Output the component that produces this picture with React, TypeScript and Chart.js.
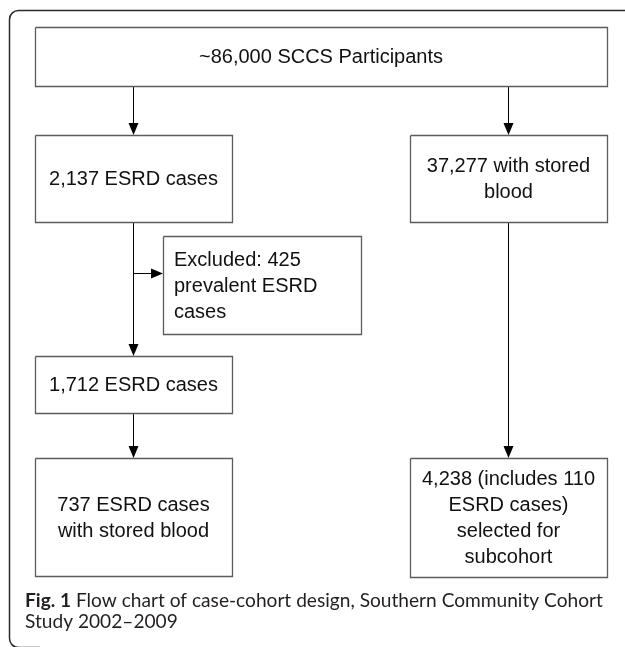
import React, { useEffect, useRef } from "react";
import { Chart, registerables } from "chart.js";

Chart.register(...registerables);

// ---- content (node texts) ----
const nodeTexts: string[][] = [
  ["~86,000 SCCS Participants"],
  ["2,137 ESRD cases"],
  ["37,277 with stored", "blood"],
  ["Excluded: 425", "prevalent ESRD", "cases"],
  ["1,712 ESRD cases"],
  ["737 ESRD cases", "with stored blood"],
  ["4,238 (includes 110", "ESRD cases)", "selected for", "subcohort"],
];
const nodeAlign: ("center" | "left")[] = ["center", "center", "center", "left", "center", "center", "center"];

const captionBold = "Fig. 1";
const captionLine1 = " Flow chart of case-cohort design, Southern Community Cohort";
const captionLine2 = "Study 2002\u20132009";

// ---- layout (in scale units = px of the 625x647 canvas) ----
const boxLeft = [35, 35, 410, 163, 35, 35, 410];
const boxTop = [27, 135, 135, 236, 356, 458, 458];
const boxRight = [607, 232, 607, 361, 232, 232, 607];
const boxBottom = [86, 222, 222, 334, 413, 576, 577];
const textLineStep = 26;
const excludedTextX = 174;

// connectors: [x1, y1, x2, y2]
const connX1 = [133.5, 508.5, 133.5, 133.5, 133.5, 508.5];
const connY1 = [86, 86, 222, 273.5, 413, 222];
const connX2 = [133.5, 508.5, 133.5, 163, 133.5, 508.5];
const connY2 = [135, 135, 356, 273.5, 458, 458];

const W = 625;
const H = 647;

const flowPlugin = {
  id: "flowPlugin",
  beforeDatasetsDraw(chart: any) {
    const ctx = chart.ctx;
    const xs = chart.scales.x;
    const ys = chart.scales.y;
    // outer frame
    const l = xs.getPixelForValue(9.5);
    const t = ys.getPixelForValue(10.5);
    const b = ys.getPixelForValue(647.5);
    const r = 9;
    ctx.save();
    ctx.strokeStyle = "#2b2b2b";
    ctx.lineWidth = 1.5;
    ctx.beginPath();
    ctx.moveTo(xs.getPixelForValue(632), t);
    ctx.lineTo(l + r, t);
    ctx.arcTo(l, t, l, t + r, r);
    ctx.lineTo(l, b - r);
    ctx.arcTo(l, b, l + r, b, r);
    ctx.lineTo(xs.getPixelForValue(40), b);
    ctx.stroke();
    ctx.restore();
  },
  afterDatasetsDraw(chart: any) {
    const ctx = chart.ctx;
    const xs = chart.scales.x;
    const ys = chart.scales.y;
    ctx.save();
    // arrowheads
    ctx.fillStyle = "#000";
    for (let i = 0; i < connX1.length; i++) {
      const x1 = xs.getPixelForValue(connX1[i]);
      const y1 = ys.getPixelForValue(connY1[i]);
      const x2 = xs.getPixelForValue(connX2[i]);
      const y2 = ys.getPixelForValue(connY2[i]);
      const ang = Math.atan2(y2 - y1, x2 - x1);
      const len = 12;
      const half = 5;
      ctx.save();
      ctx.translate(x2, y2);
      ctx.rotate(ang);
      ctx.beginPath();
      ctx.moveTo(0, 0);
      ctx.lineTo(-len, -half);
      ctx.lineTo(-len, half);
      ctx.closePath();
      ctx.fill();
      ctx.restore();
    }
    // node texts
    ctx.fillStyle = "#111";
    ctx.font = '20px "Liberation Sans", Arial, sans-serif';
    ctx.textBaseline = "middle";
    for (let i = 0; i < nodeTexts.length; i++) {
      const lines = nodeTexts[i];
      const cx = xs.getPixelForValue((boxLeft[i] + boxRight[i]) / 2);
      const cy = ys.getPixelForValue((boxTop[i] + boxBottom[i]) / 2);
      const n = lines.length;
      for (let j = 0; j < n; j++) {
        const y = cy + (j - (n - 1) / 2) * textLineStep + 1;
        if (nodeAlign[i] === "left") {
          ctx.textAlign = "left";
          ctx.fillText(lines[j], xs.getPixelForValue(excludedTextX), y);
        } else {
          ctx.textAlign = "center";
          ctx.fillText(lines[j], cx, y);
        }
      }
    }
    // caption
    const capFont = '"Lato", "Open Sans", sans-serif';
    const capX = xs.getPixelForValue(25);
    const capTarget = 578;
    let size = 16;
    ctx.font = `bold ${size}px ${capFont}`;
    const wb = ctx.measureText(captionBold).width;
    ctx.font = `${size}px ${capFont}`;
    const wr = ctx.measureText(captionLine1).width;
    size = (size * capTarget) / (wb + wr);
    ctx.textAlign = "left";
    ctx.textBaseline = "alphabetic";
    ctx.fillStyle = "#231f20";
    ctx.font = `bold ${size}px ${capFont}`;
    const wb2 = ctx.measureText(captionBold).width;
    const by1 = ys.getPixelForValue(607);
    const by2 = ys.getPixelForValue(628);
    ctx.fillText(captionBold, capX, by1);
    ctx.font = `${size}px ${capFont}`;
    ctx.fillText(captionLine1, capX + wb2, by1);
    ctx.fillText(captionLine2, capX, by2);
    ctx.restore();
  },
};

export default function App() {
  const ref = useRef<HTMLCanvasElement | null>(null);
  useEffect(() => {
    if (!ref.current) return;
    const datasets: any[] = [];
    for (let i = 0; i < boxLeft.length; i++) {
      const l = boxLeft[i] + 0.5, r = boxRight[i] + 0.5, t = boxTop[i] + 0.5, b = boxBottom[i] + 0.5;
      datasets.push({
        data: [
          { x: l, y: t },
          { x: r, y: t },
          { x: r, y: b },
          { x: l, y: b },
          { x: l, y: t },
        ],
        showLine: true,
        borderColor: "#5c5c5c",
        borderWidth: 1.3,
        pointRadius: 0,
        fill: false,
        tension: 0,
        borderJoinStyle: "miter",
        backgroundColor: "transparent",
      });
    }
    for (let i = 0; i < connX1.length; i++) {
      const horiz = connY1[i] === connY2[i];
      datasets.push({
        data: [
          { x: connX1[i], y: connY1[i] },
          { x: connX2[i] - (horiz ? 6 : 0), y: connY2[i] - (horiz ? 0 : 6) },
        ],
        showLine: true,
        borderColor: "#000",
        borderWidth: 1,
        pointRadius: 0,
        fill: false,
      });
    }
    const chart = new Chart(ref.current, {
      type: "scatter",
      data: { datasets },
      options: {
        animation: false,
        responsive: false,
        events: [],
        layout: { padding: 0 },
        plugins: { legend: { display: false }, tooltip: { enabled: false } },
        scales: {
          x: { type: "linear", min: 0, max: W, display: false },
          y: { type: "linear", min: 0, max: H, reverse: true, display: false },
        },
      },
      plugins: [flowPlugin],
    } as any);
    return () => chart.destroy();
  }, []);
  return (
    <div style={{ position: "absolute", left: 0, top: 0, width: W, height: H, background: "#fff" }}>
      <canvas ref={ref} width={W} height={H} style={{ display: "block" }} />
    </div>
  );
}
